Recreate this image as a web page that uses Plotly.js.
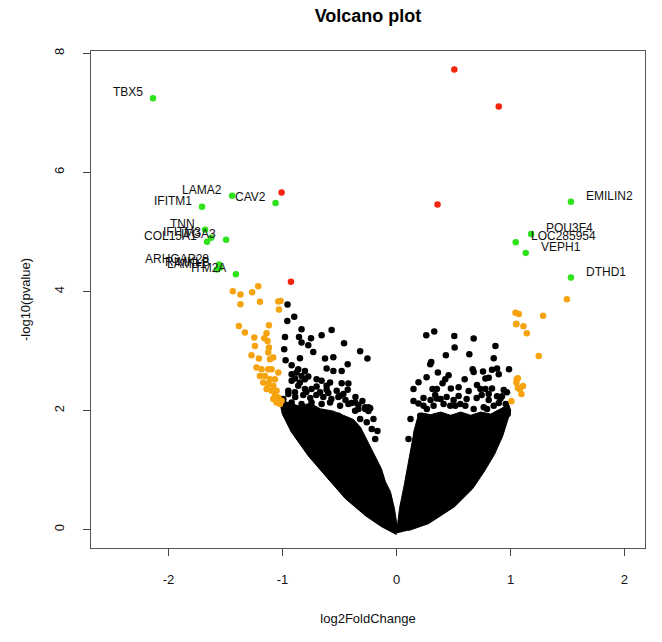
<!DOCTYPE html>
<html>
<head>
<meta charset="utf-8">
<script src="https://cdn.plot.ly/plotly-3.0.1.min.js"></script>
<style>html,body{margin:0;padding:0;background:#fff;}#chart{width:662px;height:642px;}</style>
</head>
<body>
<div id="chart"></div>
<script>
// ---- Data ----
// Labelled significant genes (|log2FC| > 1, significant) - green
const geneNames = ["TBX5","IFITM1","LAMA2","CAV2","TNN","IFITM3","COL15A1","ITGA3","ARHGAP28","RIMKLB","LAMB1","ITM2A","EMILIN2","POU3F4","LOC285954","VEPH1","DTHD1"];
const geneLFC   = [-2.136,-1.706,-1.442,-1.061,-1.679,-1.626,-1.662,-1.495,-1.556,-1.547,-1.574,-1.409,1.530,1.181,1.046,1.134,1.530];
const geneLogP  = [7.247,5.423,5.607,5.485,5.038,4.904,4.837,4.870,4.452,4.402,4.368,4.290,5.506,4.966,4.825,4.648,4.234];

// Significant, |log2FC| < 1 - red
const redLFC  = [0.507,0.897,-1.008,0.360,-0.926];
const redLogP = [7.727,7.108,5.662,5.461,4.162];

// |log2FC| > 1, not significant - orange
const orangeLFC = [-1.436,-1.369,-1.266,-1.213,-1.369,-1.198,-1.037,-1.017,-1.031,-1.383,-1.119,-1.330,-1.140,-1.248,-1.160,-1.242,-1.131,-1.119,-1.272,-1.207,-1.125,-1.110,-1.081,-1.228,-1.184,-1.125,-1.096,-1.037,-1.198,-1.154,-1.110,-1.066,-1.169,-1.125,-1.081,-1.140,-1.096,-1.052,-1.066,-1.037,-1.081,-1.052,-1.022,-1.008,
  1.495,1.286,1.073,1.044,1.052,1.049,1.114,1.143,1.248,1.055,1.064,1.052,1.081,1.110,1.066,1.096,1.008];
const orangeLogP = [4.005,3.950,3.988,4.089,3.787,3.828,3.833,3.838,3.699,3.419,3.431,3.309,3.297,3.225,3.213,3.085,3.168,3.058,2.929,2.874,2.974,2.862,2.890,2.723,2.695,2.695,2.695,2.639,2.582,2.582,2.527,2.527,2.472,2.444,2.415,2.360,2.331,2.331,2.248,2.221,2.192,2.137,2.109,2.164,
  3.871,3.593,3.620,3.644,3.459,3.448,3.414,3.297,2.917,2.527,2.544,2.465,2.360,2.410,2.377,2.276,2.154];

// Non-significant genes - black (scattered points above and along the dense core)
const blackLFC = [-0.956,-0.897,-0.958,-0.833,-0.569,-0.657,-0.978,-0.855,-0.750,-0.833,-0.774,-0.460,-0.985,-0.730,-0.319,-0.255,-0.847,-0.627,-0.554,-0.973,-0.428,-0.920,-0.613,-0.554,-0.481,-0.862,-0.803,-0.833,-0.774,-0.891,-0.920,-0.481,-0.422,-0.613,-0.701,-0.862,-0.745,-0.613,-0.525,-0.428,-0.671,-0.949,
  -0.920,-0.876,-0.803,-0.847,-0.701,-0.657,-0.583,-0.803,-0.891,-0.495,-0.363,-0.275,-0.246,-0.334,-0.422,
  -0.920,-0.833,-0.745,-0.657,-0.583,-0.495,-0.363,-0.275,-0.231,-0.319,-0.261,-0.217,-0.187,-0.510,-0.627,-0.671,
  -0.949,-0.888,-0.818,-0.756,-0.703,-0.642,-0.571,-0.510,-0.448,-0.396,-0.334,-0.791,-0.993,-0.598,-0.466,-0.360,-0.299,-0.246,-0.202,-0.167,
  0.261,0.331,0.507,0.677,0.510,0.868,0.433,0.639,0.853,0.305,0.296,0.363,0.457,0.428,0.668,0.677,0.759,0.838,0.882,0.987,0.897,0.780,0.809,0.706,0.736,0.780,0.838,0.316,0.354,0.477,0.941,0.970,0.340,0.354,0.882,0.912,0.926,
  0.193,0.237,0.266,0.325,0.413,0.472,0.516,0.560,0.604,0.677,0.765,0.794,0.853,0.882,0.941,0.208,0.296,0.354,0.442,0.560,0.706,0.824,0.178,
  0.149,0.299,0.387,0.501,0.615,0.703,0.809,0.897,0.958,0.237,0.545,0.747,0.440,0.123,0.105,0.976,
  0.193,0.264,0.404,0.545,0.598,0.633,0.809,0.149];
const blackLogP = [3.782,3.577,3.503,3.364,3.352,3.264,3.235,3.235,3.213,3.141,3.096,3.130,3.029,2.984,2.996,2.874,2.879,2.874,2.895,2.845,2.778,2.762,2.706,2.666,2.666,2.695,2.666,2.582,2.572,2.539,2.499,2.460,2.455,2.415,2.405,2.415,2.360,2.348,2.331,2.348,2.305,2.331,
  2.611,2.639,2.527,2.472,2.527,2.499,2.472,2.360,2.305,2.248,2.137,2.054,2.054,2.025,2.109,
  2.137,2.109,2.137,2.109,2.137,2.080,1.997,2.025,2.037,1.858,1.803,1.690,1.523,1.913,1.941,1.858,
  2.276,2.226,2.259,2.209,2.259,2.226,2.192,2.226,2.176,2.126,2.092,2.310,2.192,2.293,2.276,2.226,2.159,1.992,1.858,1.657,
  3.264,3.326,3.252,3.208,3.058,3.085,2.929,2.946,2.879,2.817,2.778,2.639,2.594,2.527,2.695,2.649,2.656,2.683,2.706,2.695,2.611,2.539,2.549,2.427,2.360,2.360,2.372,2.360,2.360,2.372,2.343,2.305,2.259,2.204,2.238,2.204,2.238,
  2.117,2.080,2.025,2.080,2.109,2.080,2.080,2.109,2.080,2.025,2.054,2.025,2.080,1.941,1.997,1.913,1.746,1.858,1.803,1.774,1.774,1.803,1.635,
  2.159,2.176,2.192,2.176,2.192,2.209,2.176,2.126,2.109,2.209,2.243,2.259,2.226,1.858,1.523,1.941,
  2.477,2.561,2.460,2.393,2.527,2.326,2.276,2.360];

// Outline of the solid (overplotted) black core, left arm and right arm
const coreLeftLFC  = [0,-0.132,-0.273,-0.448,-0.624,-0.774,-0.923,-1.002,-1.020,-0.976,-0.862,-0.756,-0.668,-0.554,-0.466,-0.378,-0.316,-0.273,-0.220,-0.176,-0.132,-0.097,-0.053,-0.018,0.009];
const coreLeftLogP = [-0.084,0.050,0.234,0.519,0.904,1.238,1.640,1.941,2.109,2.150,2.080,2.120,2.030,1.990,1.920,1.850,1.720,1.560,1.356,1.188,1.021,0.803,0.636,0.351,0.017];
const coreRightLFC  = [0,0.026,0.070,0.105,0.132,0.158,0.185,0.220,0.299,0.387,0.475,0.563,0.651,0.738,0.826,0.914,0.985,1.002,0.976,0.932,0.862,0.774,0.668,0.510,0.281,0.105];
const coreRightLogP = [-0.067,0.351,0.770,1.155,1.439,1.690,1.880,1.960,1.930,1.975,1.920,1.975,1.920,1.975,1.940,2.030,2.100,2.000,1.824,1.573,1.272,0.987,0.686,0.385,0.100,-0.017];

const xTicks = [-2,-1,0,1,2];
const yTicks = [0,2,4,6,8];

// ---- Styles ----
const FONT = "Liberation Sans, Arial, Helvetica, sans-serif";
const C_BLACK = "#000000", C_ORANGE = "#f5a30f", C_RED = "#f3250d", C_GREEN = "#2ee21c";
const MS = 6.5;

const traces = [
  {type:"scatter", mode:"lines", x:coreLeftLFC, y:coreLeftLogP, fill:"toself", fillcolor:C_BLACK, line:{color:C_BLACK, width:1}, hoverinfo:"skip", showlegend:false},
  {type:"scatter", mode:"lines", x:coreRightLFC, y:coreRightLogP, fill:"toself", fillcolor:C_BLACK, line:{color:C_BLACK, width:1}, hoverinfo:"skip", showlegend:false},
  {type:"scatter", mode:"markers", x:blackLFC, y:blackLogP, marker:{color:C_BLACK, size:MS}, showlegend:false},
  {type:"scatter", mode:"markers", x:orangeLFC, y:orangeLogP, marker:{color:C_ORANGE, size:MS}, showlegend:false},
  {type:"scatter", mode:"markers", x:redLFC, y:redLogP, marker:{color:C_RED, size:MS}, showlegend:false},
  {type:"scatter", mode:"markers", x:geneLFC, y:geneLogP, marker:{color:C_GREEN, size:MS}, showlegend:false}
];

const annotations = geneNames.map((g,i)=>({
  x: geneLFC[i], y: geneLogP[i], xref:"x", yref:"y", text:g, showarrow:false,
  xanchor: geneLFC[i] < 0 ? "right" : "left", yanchor:"middle",
  xshift: geneLFC[i] < 0 ? -8 : 13, yshift: 6,
  font:{family:FONT, size:12, color:"#111"}
}));

const layout = {
  width:662, height:642,
  margin:{l:91, r:17, t:51, b:94},
  paper_bgcolor:"#fff", plot_bgcolor:"#fff",
  showlegend:false,
  title:{text:"<b>Volcano plot</b>", font:{family:FONT, size:18, color:"#000"}, xref:"paper", x:0.5, xanchor:"center", yref:"container", y:1-16/642, yanchor:"middle"},
  xaxis:{range:[-2.68,2.18], tickvals:xTicks, ticktext:xTicks.map(String), ticks:"outside", ticklen:7, tickcolor:"#444",
    showgrid:false, zeroline:false, showline:true, mirror:true, linecolor:"#555", linewidth:1,
    tickfont:{family:FONT, size:13, color:"#111"}, ticklabelstandoff:12,
    title:{text:"log2FoldChange", font:{family:FONT, size:13, color:"#111"}, standoff:28}},
  yaxis:{range:[-0.309,8.039], tickvals:yTicks, ticktext:yTicks.map(String), ticks:"outside", ticklen:7, tickcolor:"#444", tickangle:-90,
    showgrid:false, zeroline:false, showline:true, mirror:true, linecolor:"#555", linewidth:1,
    tickfont:{family:FONT, size:13, color:"#111"}, ticklabelstandoff:14,
    title:{text:"-log10(pvalue)", font:{family:FONT, size:13, color:"#111"}, standoff:18}},
  annotations: annotations
};

Plotly.newPlot("chart", traces, layout, {displayModeBar:false, staticPlot:true});
</script>
</body>
</html>
